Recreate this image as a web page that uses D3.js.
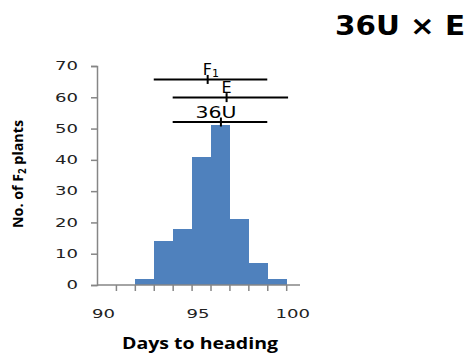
<!DOCTYPE html>
<html><head><meta charset="utf-8">
<script src="https://cdn.jsdelivr.net/npm/d3@7"></script>
<style>body{margin:0;background:#fff}svg{display:block}</style>
</head><body>
<svg id="c" width="467" height="355"></svg>
<script>
// Data
const days = [92, 93, 94, 95, 96, 97, 98, 99];
const counts = [2, 14, 18, 41, 51, 21, 7, 2];
const parents = ["F1", "E", "36U"];
const parentLevel = [65.7, 59.9, 52.1];
const parentLow = [92.5, 93.5, 93.5];
const parentHigh = [98.5, 99.6, 98.5];
const parentMean = [95.35, 96.35, 96.05];
const yTicks = [0, 10, 20, 30, 40, 50, 60, 70];
const xLabels = [90, 95, 100];
const xTickMarks = [90.5, 91.5, 92.5, 93.5, 94.5, 95.5, 96.5, 97.5, 98.5, 99.5];

const svg = d3.select("#c");
const x = d3.scaleLinear().domain([89.5, 100.23]).range([97, 300]);
const y = d3.scaleLinear().domain([0, 70]).range([285, 66]);
const axisColor = "#868686";

// bars
svg.append("g").attr("shape-rendering", "crispEdges").selectAll("rect").data(days).join("rect")
  .attr("x", d => x(d - 0.5))
  .attr("width", d => x(d + 0.5) - x(d - 0.5) + 0.5)
  .attr("y", (d, i) => y(counts[i]))
  .attr("height", (d, i) => y(0) - y(counts[i]))
  .attr("fill", "#4F81BD");

// y axis
const ya = svg.append("g").attr("transform", `translate(${x(89.5)},0)`)
  .call(d3.axisLeft(y).tickValues(yTicks).tickSize(6).tickPadding(13).tickFormat(d3.format("d")));
ya.select(".domain").attr("stroke", axisColor).attr("stroke-width", 1.5);
ya.selectAll(".tick line").attr("stroke", axisColor).attr("stroke-width", 1.5);
ya.selectAll(".tick text")
  .attr("font-family", "DejaVu Sans").attr("font-size", 12).attr("fill", "#222")
  .attr("textLength", d => String(d).length * 11.5).attr("lengthAdjust", "spacingAndGlyphs");

// x axis
const xa = svg.append("g").attr("transform", `translate(0,${y(0)})`)
  .call(d3.axisBottom(x).tickValues(xTickMarks).tickSize(6).tickFormat(""));
xa.select(".domain").attr("stroke", axisColor).attr("stroke-width", 1.5).attr("d", `M${x(89.5)},0H${x(100.23)}`);
xa.selectAll(".tick line").attr("stroke", axisColor).attr("stroke-width", 1.5);

// x labels
svg.append("g").selectAll("text").data(xLabels).join("text")
  .attr("x", d => x(d) - 3).attr("y", y(0) + 33)
  .attr("text-anchor", "middle")
  .attr("font-family", "DejaVu Sans").attr("font-size", 12).attr("fill", "#222")
  .attr("textLength", d => String(d).length * 11.5).attr("lengthAdjust", "spacingAndGlyphs")
  .text(d => d);

// parent range lines
const pg = svg.append("g");
parents.forEach((p, i) => {
  pg.append("line").attr("x1", x(parentLow[i])).attr("x2", x(parentHigh[i]))
    .attr("y1", y(parentLevel[i])).attr("y2", y(parentLevel[i]))
    .attr("stroke", "#000").attr("stroke-width", 2);
  pg.append("line").attr("x1", x(parentMean[i])).attr("x2", x(parentMean[i]))
    .attr("y1", y(parentLevel[i]) - 4.5).attr("y2", y(parentLevel[i]) + 4.5)
    .attr("stroke", "#000").attr("stroke-width", 2);
});
// labels
const lf = "DejaVu Sans";
const t1 = pg.append("text").attr("x", x(parentMean[0]) - 5).attr("y", y(parentLevel[0]) - 4.5)
  .attr("font-family", lf).attr("font-size", 16).attr("fill", "#000");
t1.append("tspan").text("F");
t1.append("tspan").attr("font-size", 11).attr("dy", 2).text("1");
pg.append("text").attr("x", x(parentMean[1])).attr("y", y(parentLevel[1]) - 5)
  .attr("text-anchor", "middle").attr("font-family", lf).attr("font-size", 16).attr("fill", "#000")
  .text(parents[1]);
pg.append("text").attr("x", x(parentMean[2]) - 5).attr("y", y(parentLevel[2]) - 4)
  .attr("text-anchor", "middle").attr("font-family", lf).attr("font-size", 15).attr("fill", "#000")
  .attr("textLength", 41).attr("lengthAdjust", "spacingAndGlyphs")
  .text(parents[2]);

// axis titles
const yt = svg.append("text").attr("transform", "translate(23,174) rotate(-90)")
  .attr("text-anchor", "middle").attr("font-family", "Open Sans").attr("font-weight", "bold")
  .attr("font-size", 14.5).attr("fill", "#000")
  .attr("textLength", 108).attr("lengthAdjust", "spacingAndGlyphs");
yt.append("tspan").text("No. of F");
yt.append("tspan").attr("font-size", 10).attr("dy", 3).text("2");
yt.append("tspan").attr("dy", -3).text(" plants");

svg.append("text").attr("x", 122).attr("y", 349)
  .attr("font-family", "Open Sans").attr("font-weight", "bold").attr("font-size", 16).attr("fill", "#000")
  .attr("textLength", 156).attr("lengthAdjust", "spacingAndGlyphs")
  .text("Days to heading");

svg.append("text").attr("x", 335).attr("y", 35)
  .attr("font-family", "DejaVu Sans").attr("font-weight", "bold").attr("font-size", 27).attr("fill", "#000")
  .attr("textLength", 130).attr("lengthAdjust", "spacingAndGlyphs")
  .text("36U × E");
</script>
</body></html>
